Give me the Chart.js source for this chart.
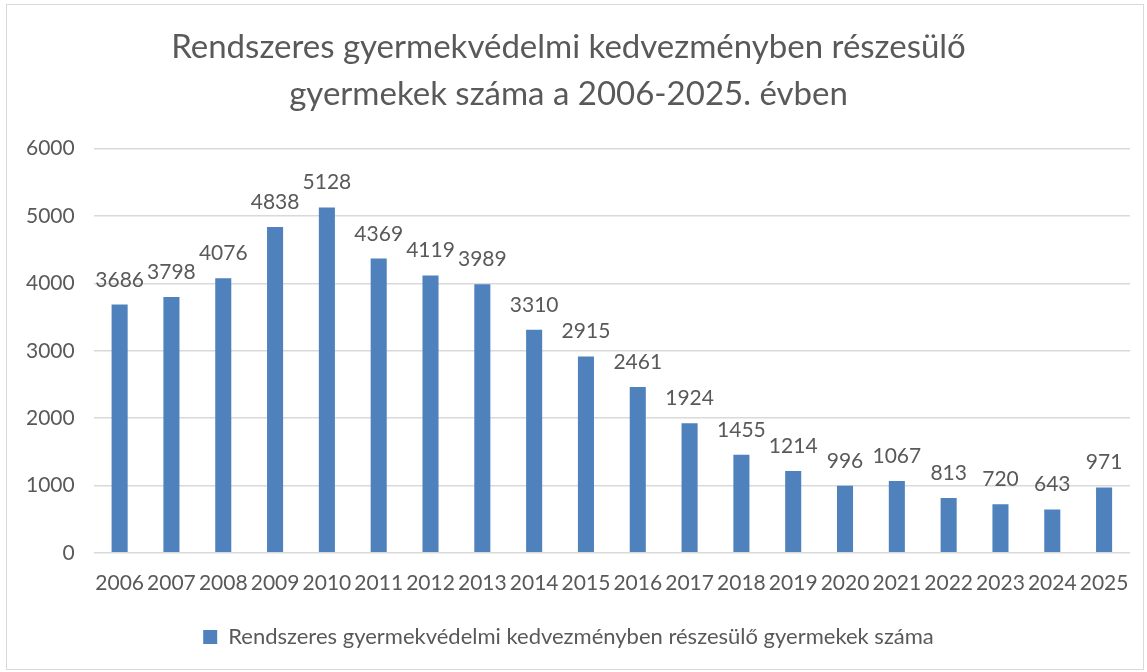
<!DOCTYPE html>
<html>
<head>
<meta charset="utf-8">
<script src="https://cdn.jsdelivr.net/npm/chart.js@4.4.1/dist/chart.umd.min.js"></script>
<style>
  html, body { margin: 0; padding: 0; background: #fff; }
  #wrap { position: absolute; left: 6px; top: 4px; width: 1138px; height: 666px; border: 1px solid #d9d9d9; box-sizing: border-box; }
  canvas { display: block; }
</style>
</head>
<body>
<div id="wrap"><canvas id="chart"></canvas></div>
<script>
// Adatok
const years = ['2006', '2007', '2008', '2009', '2010', '2011', '2012', '2013', '2014', '2015',
  '2016', '2017', '2018', '2019', '2020', '2021', '2022', '2023', '2024', '2025'];
const counts = [3686, 3798, 4076, 4838, 5128, 4369, 4119, 3989, 3310, 2915,
  2461, 1924, 1455, 1214, 996, 1067, 813, 720, 643, 971];
const titleLines = ['Rendszeres gyermekvédelmi kedvezményben részesülő', 'gyermekek száma a 2006-2025. évben'];
const seriesLabel = 'Rendszeres gyermekvédelmi kedvezményben részesülő gyermekek száma';

const textColor = '#595959';
const barColor = '#4f81bd';
const fontFamily = 'Lato, "Open Sans", sans-serif';

// Értékcímkék az oszlopok fölé
const valueLabels = {
  id: 'valueLabels',
  afterDatasetsDraw(chart) {
    const ctx = chart.ctx;
    ctx.save();
    ctx.fillStyle = textColor;
    ctx.font = '21px ' + fontFamily;
    ctx.textAlign = 'center';
    ctx.textBaseline = 'alphabetic';
    chart.getDatasetMeta(0).data.forEach((bar, i) => {
      ctx.fillText(String(counts[i]), bar.x, bar.y - 18);
    });
    ctx.restore();
  }
};

new Chart(document.getElementById('chart'), {
  type: 'bar',
  data: {
    labels: years,
    datasets: [{
      label: seriesLabel,
      data: counts,
      backgroundColor: barColor,
      borderWidth: 0,
      barPercentage: 0.62,
      categoryPercentage: 0.5
    }]
  },
  options: {
    responsive: true,
    maintainAspectRatio: false,
    animation: false,
    layout: { padding: { left: 0, right: 13, top: 6, bottom: 11 } },
    plugins: {
      title: {
        display: true,
        text: titleLines,
        color: textColor,
        font: { family: fontFamily, size: 33, weight: 'normal', lineHeight: 1.45 },
        padding: { top: 12, bottom: 30 }
      },
      legend: {
        position: 'bottom',
        labels: {
          color: textColor,
          font: { family: fontFamily, size: 22 },
          boxWidth: 14,
          boxHeight: 14,
          padding: 20
        }
      },
      tooltip: { enabled: false }
    },
    scales: {
      x: {
        grid: { display: false },
        border: { display: false },
        ticks: { color: textColor, font: { family: fontFamily, size: 21 }, maxRotation: 0, autoSkip: false, padding: 10 }
      },
      y: {
        min: 0,
        max: 6000,
        grid: { color: '#d9d9d9', lineWidth: 1.5, drawTicks: false },
        border: { display: false },
        ticks: {
          stepSize: 1000,
          color: textColor,
          font: { family: fontFamily, size: 21 },
          padding: 19,
          callback: value => String(value)
        }
      }
    }
  },
  plugins: [valueLabels]
});
</script>
</body>
</html>
